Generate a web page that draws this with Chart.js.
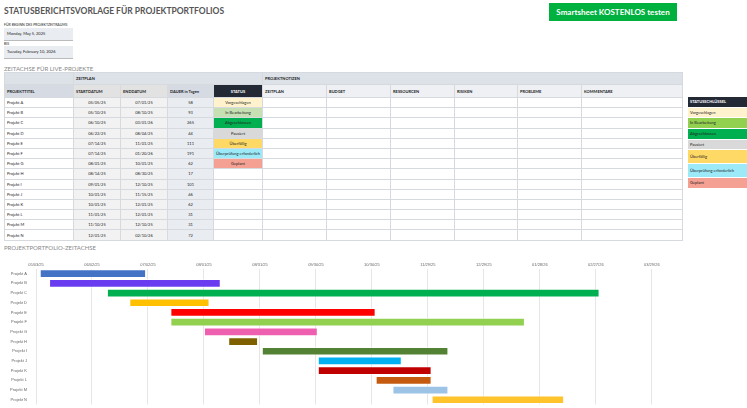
<!DOCTYPE html>
<html><head><meta charset="utf-8">
<script src="https://cdn.jsdelivr.net/npm/chart.js@4"></script>
<style>
body{margin:0;width:747px;height:408px;overflow:hidden;font-family:Lato,"Open Sans",sans-serif;background:#fff;position:relative;color:#222}
.a{position:absolute;white-space:nowrap}
table{border-collapse:collapse;position:absolute;left:4px;top:72px;table-layout:fixed;font-size:4px}
td{border:0.5px solid #d6d9de;height:9.2px;padding:0 2px;overflow:hidden;white-space:nowrap}
.g{background:#f2f2f2;text-align:center}.d{background:#e9ecf1;text-align:center}
.h1 td{background:#dde1e8;font-weight:bold;height:11px}
.h2 td{background:#eef0f4;font-weight:bold;height:12px}
#leg{position:absolute;left:688px;top:97px;width:59px;font-size:4px}
#leg div{height:9.7px;line-height:9.7px;padding-left:2px;border-bottom:0.5px solid #fff}
</style></head><body>
<div class="a" style="left:4px;top:6px;font-size:8.5px;font-weight:bold;color:#555">STATUSBERICHTSVORLAGE FÜR PROJEKTPORTFOLIOS</div>
<div class="a" style="left:549px;top:3px;width:128px;height:18px;background:#00b140;color:#fff;font-weight:bold;font-size:8px;line-height:18px;text-align:center">Smartsheet KOSTENLOS testen</div>
<div class="a" style="left:4px;top:23px;font-size:3.5px">FÜR BEGINN DES PROJEKTZEITRAUMS</div>
<div class="a" style="left:4px;top:28px;width:66px;height:12px;background:#e9ecf1;border-bottom:1px solid #bbb;font-size:4px;line-height:12px;padding-left:3px">Monday, May 5, 2025</div>
<div class="a" style="left:4px;top:42px;font-size:3.5px">BIS</div>
<div class="a" style="left:4px;top:46px;width:66px;height:12px;background:#e9ecf1;border-bottom:1px solid #bbb;font-size:4px;line-height:12px;padding-left:3px">Tuesday, February 10, 2026</div>
<div class="a" style="left:4px;top:65px;font-size:6px;color:#888">ZEITACHSE FÜR LIVE-PROJEKTE</div>
<table id="tbl"></table>
<div id="leg"></div>
<div class="a" style="left:4px;top:244px;font-size:6px;color:#888">PROJEKTPORTFOLIO-ZEITACHSE</div>
<div class="a" style="left:0;top:260px;width:747px;height:148px"><canvas id="c"></canvas></div>
<script>
const projects=["Projekt A","Projekt B","Projekt C","Projekt D","Projekt E","Projekt F","Projekt G","Projekt H","Projekt I","Projekt J","Projekt K","Projekt L","Projekt M","Projekt N"];
const startDates=["05/05/25","05/10/25","06/10/25","06/22/25","07/14/25","07/14/25","08/01/25","08/14/25","09/01/25","10/01/25","10/01/25","11/01/25","11/10/25","12/01/25"];
const endDates=["07/01/25","08/10/25","03/01/26","08/04/25","11/01/25","01/20/26","10/01/25","08/30/25","12/10/25","11/15/25","12/01/25","12/01/25","12/10/25","02/10/26"];
const durations=[58,93,265,44,111,191,62,17,101,46,62,31,31,72];
const statuses=["Vorgeschlagen","In Bearbeitung","Abgeschlossen","Pausiert","Überfällig","Überprüfung erforderlich","Geplant","","","","","","",""];
const statusKeys=["Vorgeschlagen","In Bearbeitung","Abgeschlossen","Pausiert","Überfällig","Überprüfung erforderlich","Geplant"];
const statusColors=["#fff2cc","#92d050","#00b050","#d9d9d9","#ffd966","#9ceaf7","#f4a093"];
const statusCellColors=["#fff2cc","#c6e0b4","#00b050","#d9d9d9","#ffd966","#9ceaf7","#f4a093"];
const barColors=["#4472c4","#6a3cf0","#00b050","#ffc000","#ff0000","#92d050","#ef5fb0","#7f6000","#548235","#00b0f0","#c00000","#c55a11","#9dc3e6","#ffc32c"];
const axisStart="05/03/25";
const tickLabels=["05/03/25","06/02/25","07/02/25","08/01/25","08/31/25","09/30/25","10/30/25","11/29/25","12/29/25","01/28/26","02/27/26","03/29/26"];

function toDate(s){const[m,d,y]=s.split('/').map(Number);return Date.UTC(2000+y,m-1,d);}
const base=toDate(axisStart);
const day=s=>(toDate(s)-base)/86400000;

const w=[69,47,47,46,47,64,64,64,63,64,101];
let h='<colgroup>'+w.map(x=>`<col style="width:${x}px">`).join('')+'</colgroup>';
h+='<tr class="h1"><td></td><td colspan="4">ZEITPLAN</td><td colspan="6">PROJEKTNOTIZEN</td></tr>';
h+='<tr class="h2"><td style="background:#d5dae3">PROJEKTTITEL</td><td style="background:#e2e2e2">STARTDATUM</td><td style="background:#e2e2e2">ENDDATUM</td><td style="background:#d5dae3">DAUER in Tagen</td><td style="background:#232a35;color:#fff;text-align:center">STATUS</td><td>ZEITPLAN</td><td>BUDGET</td><td>RESSOURCEN</td><td>RISIKEN</td><td>PROBLEME</td><td>KOMMENTARE</td></tr>';
projects.forEach((p,i)=>{const si=statusKeys.indexOf(statuses[i]);
h+=`<tr><td>${p}</td><td class="g">${startDates[i]}</td><td class="g">${endDates[i]}</td><td class="d">${durations[i]}</td><td style="text-align:center;${si>=0?'background:'+statusCellColors[si]:''}">${statuses[i]}</td><td></td><td></td><td></td><td></td><td></td><td></td></tr>`;});
document.getElementById('tbl').innerHTML=h;
let lg='<div style="background:#232a35;color:#fff;font-weight:bold">STATUSSCHLÜSSEL</div>';
statusKeys.forEach((s,i)=>lg+=`<div style="background:${statusColors[i]};${i==4||i==5?'height:13px;line-height:13px':''}">${s}</div>`);
document.getElementById('leg').innerHTML=lg;

const tickVals=tickLabels.map(day);
new Chart(document.getElementById('c'),{type:'bar',
data:{labels:projects,datasets:[{data:projects.map((p,i)=>[day(startDates[i]),day(endDates[i])]),backgroundColor:barColors,borderColor:'rgba(255,255,255,0.6)',borderWidth:1,borderSkipped:false,categoryPercentage:0.9,barPercentage:1}]},
options:{indexAxis:'y',responsive:true,maintainAspectRatio:false,animation:false,
layout:{padding:{right:0,bottom:2}},
plugins:{legend:{display:false},tooltip:{enabled:false}},
scales:{x:{type:'linear',position:'top',min:0,max:381,afterBuildTicks:a=>{a.ticks=tickVals.map(v=>({value:v}));},
ticks:{autoSkip:false,maxRotation:0,font:{size:4},color:'#666',padding:2,callback:(v)=>{const i=tickVals.indexOf(v);return i>=0?tickLabels[i]:'';}},
grid:{color:'#e6e6e6',drawTicks:false},border:{display:false}},
y:{afterFit:a=>{a.width=36;},ticks:{font:{size:4},color:'#666',padding:1},grid:{display:false},border:{display:false}}}}});
</script></body></html>
